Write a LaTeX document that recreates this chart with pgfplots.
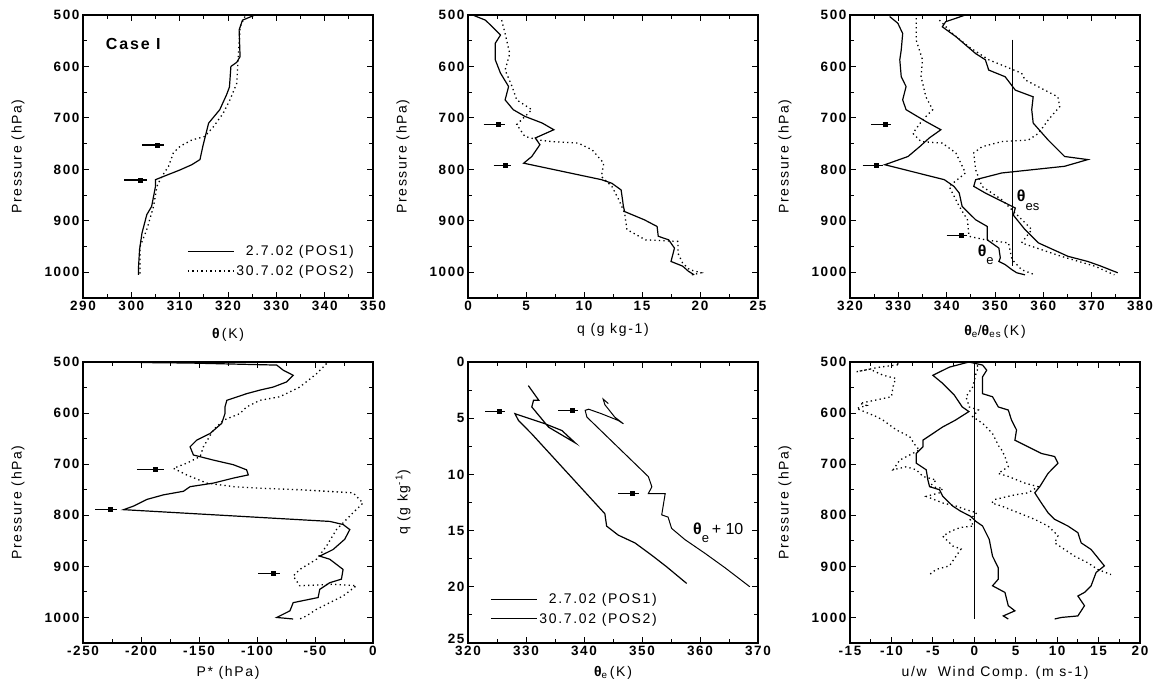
\documentclass[border=0pt]{standalone}
\usepackage{fontspec}
\setmainfont{Liberation Sans}
\newfontfamily\tf[LetterSpace=12]{Liberation Sans}
\usepackage{pgfplots}
\pgfplotsset{compat=1.18}
\newcommand\thb{{\bfseries θ}}
\newcommand\lf{\tf\fontsize{14}{16}\selectfont}

\pgfplotsset{
  panel/.style={
    scale only axis, width=290pt, height=283pt,
    axis line style={line width=1.3pt},
    tick align=inside, xtick pos=both, ytick pos=both,
    major tick length=6pt, minor tick length=4pt, minor tick num=1,
    every tick/.style={black, line width=0.9pt},
    tick label style={font=\tf\bfseries\fontsize{13.5}{14}\selectfont},
    /pgf/number format/assume math mode=true,
    /pgf/number format/1000 sep={},
    every axis y label/.style={at={(axis description cs:-0.224,0.5)}, rotate=90, anchor=center, font=\lf},
    xlab/.style={every axis x label/.style={at={(axis description cs:0.5,0)}, yshift=-##1, anchor=center, font=\lf}},
    xlab=37pt,
    clip=false,
  },
  pres/.style={y dir=reverse, ymin=500, ymax=1050, ytick={500,600,...,1000}, ylabel={Pressure (hPa)}},
  sol/.style={black, line width=1.2pt},
  dot/.style={black, line width=1.3pt, dash pattern=on 1.3pt off 3.2pt},
  arr/.style={black, line width=1.4pt, mark=square*, mark size=1.8pt, mark indices={2}, forget plot},
  legimg/.style={legend image code/.code={\draw[##1] (0pt,0pt) -- (46pt,0pt);}},
}

\begin{document}
\begin{tikzpicture}
\useasboundingbox (0,0) rectangle (1154pt,689pt);

% ---- panel 1: theta
\begin{axis}[panel, pres, at={(83pt,391pt)}, anchor=south west,
  xmin=290, xmax=350, xtick={290,300,...,350},
  xlabel={\thb\,(K)},
  legimg, legend cell align=right,
  legend style={at={(axis cs:311.5,944)}, anchor=north west, draw=none, fill=none, inner sep=0pt,
    row sep=4pt, font=\lf}]
\addplot[sol] coordinates {(325.6,500)(323,510)(322.3,529)(322.5,581)(321.8,592)(320.6,600)(320.3,640)(319.7,655)(318.3,684)(316,710)(314.8,755)(314.2,781)(312.5,791)(310.1,801)(306.6,814)(305,820)(305,833)(304.2,872)(303.2,888)(302.2,924)(301.7,956)(301.5,988)(301.5,1005)};
\addlegendentry{2.7.02 (POS1)}
\addplot[dot] coordinates {(323.5,503)(322.5,523)(322.1,587)(321.8,633)(320.4,665)(319,691)(317,717)(315.2,736)(312.5,743)(310.1,755)(308.7,768)(307.7,794)(306.3,814)(305.3,833)(304.6,872)(303.2,917)(301.8,950)(301.8,988)(301.8,1005)};
\addlegendentry{30.7.02 (POS2)}
\addplot[arr] coordinates {(302.2,753)(305.35,753)(306.7,753)};
\addplot[arr] coordinates {(298.5,821)(301.8,821)(303.2,821)};
\node[anchor=west, font=\tf\bfseries\fontsize{16}{18}\selectfont] at (axis cs:294,557) {Case I};
\end{axis}

% ---- panel 2: q
\begin{axis}[panel, pres, at={(468pt,391pt)}, anchor=south west,
  xmin=0, xmax=25, xtick={0,5,...,25}, xlab=32pt,
  xlabel={q (g kg-1)}]
\addplot[sol] coordinates {(0.4,500)(1.5,510)(2.1,523)(2.8,539)(2.35,555)(2.35,587)(2.8,613)(3.5,639)(3.2,665)(3.9,684)(4.9,697)(6.4,710)(7.4,723)(5.8,739)(6.2,752)(5.5,775)(4.8,788)(11.5,820)(12.4,827)(13.2,840)(13.4,872)(13.5,882)(15.2,898)(16.3,911)(16.4,930)(17.3,937)(17.8,953)(17.5,979)(18.5,988)(19,998)(19.5,1005)};
\addplot[dot] coordinates {(2.9,510)(3.2,536)(3.6,575)(3.2,607)(3.8,639)(4.2,665)(5.5,684)(4.2,713)(4.9,736)(6.1,743)(7.2,746)(9.5,749)(10.7,762)(11.7,788)(11.5,814)(12.4,833)(13,859)(13.5,885)(13.7,917)(15.3,937)(18.1,940)(18.1,963)(18.5,982)(19.1,995)(20.1,1001)(19.3,1005)};
\addplot[arr] coordinates {(1.35,713)(2.65,713)(3.2,713)};
\addplot[arr] coordinates {(2.2,792)(3.25,792)(3.7,792)};
\end{axis}

% ---- panel 3: theta_e / theta_es
\begin{axis}[panel, pres, at={(850pt,391pt)}, anchor=south west, width=290pt,
  xmin=320, xmax=380, xtick={320,330,...,380}, xlab=34pt,
  xlabel={\thb\textsubscript{e}/\thb\textsubscript{es}\,(K)}]
\addplot[sol] coordinates {(328.2,503)(329.9,516)(330.9,536)(330.6,568)(330.3,587)(330.6,620)(331.6,639)(330.9,665)(331.6,684)(335.7,707)(338.8,723)(336.4,739)(334.4,756)(332,775)(327.2,791)(339.5,820)(341.5,833)(342.6,846)(343.2,872)(346,898)(348.4,911)(348.4,937)(350.8,953)(351.1,972)(350.8,979)(352.1,985)(353.5,995)(354.5,1001)(356.2,1005)};
\addplot[dot] coordinates {(333.7,506)(333.7,549)(335,587)(334.7,620)(335.7,659)(337.1,684)(335,704)(333,730)(334.7,746)(339.1,749)(341.9,768)(343.9,807)(340.5,833)(342.6,872)(344.3,898)(344.6,930)(348,937)(352.8,943)(353.5,975)(355.5,995)(358.3,1005)};
\addplot[sol] coordinates {(343.9,500)(339.8,513)(339.1,523)(341.9,542)(346,575)(348,587)(348.7,607)(352.1,620)(354.2,646)(357.9,659)(357.6,684)(357.9,710)(361,743)(364.4,775)(369.2,781)(364.4,794)(351.4,807)(346,820)(345.6,833)(348,846)(354.2,875)(353.8,889)(356.2,917)(359,943)(365.1,969)(369.2,979)(371.9,988)(375.4,1001)};
\addplot[dot] coordinates {(338.5,510)(341.2,536)(344.6,562)(348.7,587)(352.1,600)(355.5,613)(356.2,626)(360.3,646)(363,659)(363.4,678)(361,704)(359,730)(356.9,743)(351.4,746)(347.3,756)(345.6,768)(346,801)(347.3,833)(351.4,859)(354.2,885)(357.6,917)(355.5,943)(363.7,969)(370.6,988)(374.7,1005)};
\addplot[sol, forget plot] coordinates {(353.7,548)(353.7,988)};
\addplot[arr] coordinates {(324.4,713)(327.3,713)(328.5,713)};
\addplot[arr] coordinates {(322.6,793)(325.5,793)(326.8,793)};
\addplot[arr] coordinates {(340,929)(343,929)(344.3,929)};
\node[anchor=west, inner sep=0pt, font=\fontsize{16}{16}\selectfont] at (axis cs:354.5,860) {\thb{\fontsize{13}{13}\selectfont\raisebox{-1.2ex}{es}}};
\node[anchor=west, inner sep=0pt, font=\fontsize{16}{16}\selectfont] at (axis cs:346.4,966) {\thb{\fontsize{13}{13}\selectfont\raisebox{-1.2ex}{e}}};
\end{axis}

% ---- panel 4: P*
\begin{axis}[panel, pres, at={(83pt,46pt)}, anchor=south west, height=281pt,
  xmin=-250, xmax=0, xtick={-250,-200,...,0}, xlab=30pt,
  xlabel={P* (hPa)}]
\addplot[sol] coordinates {(-201,501)(-158,502)(-83,506)(-77.4,516)(-68.8,526)(-74.5,539)(-86,549)(-97.5,555)(-109,562)(-126,575)(-127.6,588)(-127.6,601)(-130.4,620)(-140.5,640)(-152,653)(-157.7,666)(-154.8,682)(-137.6,692)(-120.4,701)(-109,711)(-107.5,721)(-120,727)(-137.6,737)(-157.7,744)(-163.4,753)(-180.6,760)(-195,769)(-206.4,782)(-215,789)(-37.3,812)(-25.8,818)(-20,828)(-24.4,847)(-34.4,867)(-45.9,880)(-37.3,886)(-25.8,906)(-27.2,925)(-37.3,932)(-45.9,945)(-47.3,961)(-68.8,971)(-71.6,987)(-83,1000)(-68.8,1003)};
\addplot[dot] coordinates {(-40,503)(-48.7,523)(-63.1,549)(-80.3,568)(-97.5,575)(-109,588)(-114.7,601)(-129,614)(-137.6,633)(-146.2,666)(-149,685)(-160.6,698)(-172,708)(-160.6,721)(-143.3,737)(-120,744)(-97.5,747)(-63.1,750)(-17.2,756)(-8.6,776)(-17.2,795)(-31.5,828)(-40,860)(-48.7,886)(-63.1,906)(-68.8,919)(-63.1,938)(-34.4,935)(-14.3,938)(-25.8,958)(-48.7,984)(-57.3,997)(-63.1,1003)};
\addplot[arr] coordinates {(-203.6,710)(-187.5,710)(-180.6,710)};
\addplot[arr] coordinates {(-239.4,789)(-226.4,789)(-220.8,789)};
\addplot[arr] coordinates {(-99,914)(-85.9,914)(-80.3,914)};
\end{axis}

% ---- panel 5: q vs theta_e
\begin{axis}[panel, at={(468pt,46pt)}, anchor=south west, height=281pt,
  y dir=reverse, ymin=0, ymax=25, ytick={0,5,...,25},
  yticklabels={0,5,10,15,20,\raisebox{8pt}{25}},
  xmin=320, xmax=370, xtick={320,330,...,370}, xlab=30pt,
  ylabel={q (g kg\textsuperscript{-1})},
  xlabel={\thb\textsubscript{e}\,(K)},
  legimg, legend cell align=right,
  legend style={at={(axis cs:323.8,20.4)}, anchor=north west, draw=none, fill=none, inner sep=0pt,
    row sep=4pt, font=\lf}]
\addplot[sol] coordinates {(330.4,2.1)(332.2,3.4)(331.3,3.4)(331,4.0)(333.9,5.8)(338.5,7.2)(336.2,6.1)(333.3,5.5)(328.1,4.6)(328.7,5.2)(331,6.4)(343.6,13.5)(343.9,14.6)(345.9,15.4)(348.8,16.1)(351.7,17.2)(354.2,18.2)(357.7,19.7)};
\addlegendentry{2.7.02 (POS1)}
\addplot[sol, line width=1pt] coordinates {(344.2,3.7)(343.3,3.3)(343.6,3.8)(345.3,4.9)(346.8,5.5)(345.9,5.2)(343,4.6)(340.8,4.2)(340.2,4.3)(340.5,4.9)(349.9,9.6)(351.1,10.2)(351.7,11.1)(351.1,11.7)(354,11.7)(353.4,13.6)(354.5,13.8)(355.1,14.8)(357.4,15.8)(360.8,17.0)(364.3,18.3)(368.6,20.0)};
\addlegendentry{30.7.02 (POS2)}
\addplot[arr] coordinates {(323,4.4)(325.4,4.4)(326.4,4.4)};
\addplot[arr] coordinates {(335.6,4.3)(338,4.3)(339,4.3)};
\addplot[arr] coordinates {(345.9,11.7)(348.4,11.7)(349.4,11.7)};
\node[anchor=west, inner sep=0pt, font=\fontsize{16}{16}\selectfont] at (axis cs:358.8,15.2) {\thb{\fontsize{13}{13}\selectfont\raisebox{-1.2ex}{e}}\,+ 10};
\end{axis}

% ---- panel 6: wind
\begin{axis}[panel, pres, at={(850pt,46pt)}, anchor=south west, width=290pt, height=281pt,
  xmin=-15, xmax=20, xtick={-15,-10,...,20}, xlab=30pt,
  xlabel={u/w\ \ Wind Comp. (m s-1)}]
\addplot[sol] coordinates {(-0.65,500)(-3,510)(-5,526)(-3.8,542)(-2.4,565)(-1.45,588)(-0.65,597)(-2.3,614)(-3.8,627)(-5,640)(-6.2,653)(-6.2,666)(-7,679)(-7,698)(-5.8,711)(-5.6,731)(-5.4,744)(-4.2,750)(-3.8,763)(-2.6,782)(-1.65,792)(-0.45,802)(0.2,812)(1,821)(1.4,834)(1.8,847)(2.2,880)(2.9,903)(2.9,925)(2.2,938)(3.7,951)(4.1,977)(4.9,987)(3.5,997)(4.1,1003)};
\addplot[sol] coordinates {(-0.65,500)(1,506)(1.5,516)(1,529)(1,562)(2.2,568)(2.9,588)(4.1,594)(4.5,614)(5.1,633)(4.9,653)(6.5,666)(8.1,679)(9.7,685)(10.1,698)(8.9,718)(7.9,744)(7.3,756)(8.1,776)(8.9,795)(9.7,808)(11.3,821)(12.5,834)(12.9,854)(14.1,867)(15.7,899)(14.7,912)(14.1,938)(13.3,951)(12.5,958)(13.3,977)(12.5,997)(10.5,1000)(9.7,1003)};
\addplot[dot] coordinates {(-9.8,500)(-9,505)(-11.4,510)(-14.2,519)(-12.6,514)(-11,526)(-9.5,532)(-9.8,548)(-10,568)(-13.8,581)(-13,585)(-14.2,591)(-11.8,607)(-11,614)(-9.4,633)(-7.8,646)(-7,666)(-6.6,672)(-9,692)(-9.8,711)(-8.2,705)(-7,711)(-6.2,724)(-4.6,731)(-5.4,744)(-3.8,747)(-4.2,756)(-5.8,763)(-3.8,776)(-2.2,782)(-1,789)(0.3,795)(-0.5,808)(-0.1,821)(-1.7,824)(-2.8,831)(-3.8,841)(-2.6,860)(-1.6,866)(-2.2,880)(-3,899)(-4.6,906)(-5.4,916)};
\addplot[dot] coordinates {(0,500)(0.5,510)(0.2,523)(-0.2,549)(-1,568)(-0.6,588)(0.5,594)(-0.2,607)(1,620)(2.2,640)(3,666)(3.3,672)(3.7,685)(4.1,705)(2.9,718)(4.1,724)(6.1,737)(7.7,744)(6.5,756)(4.9,760)(2.5,769)(2.1,776)(3.3,782)(5.3,795)(7.3,808)(8.9,821)(10.1,840)(9.7,854)(10.9,867)(12.1,880)(13.7,893)(14.9,906)(16.5,916)};
\addplot[sol, forget plot] coordinates {(0,500)(0,1003)};
\end{axis}
\end{tikzpicture}
\end{document}
